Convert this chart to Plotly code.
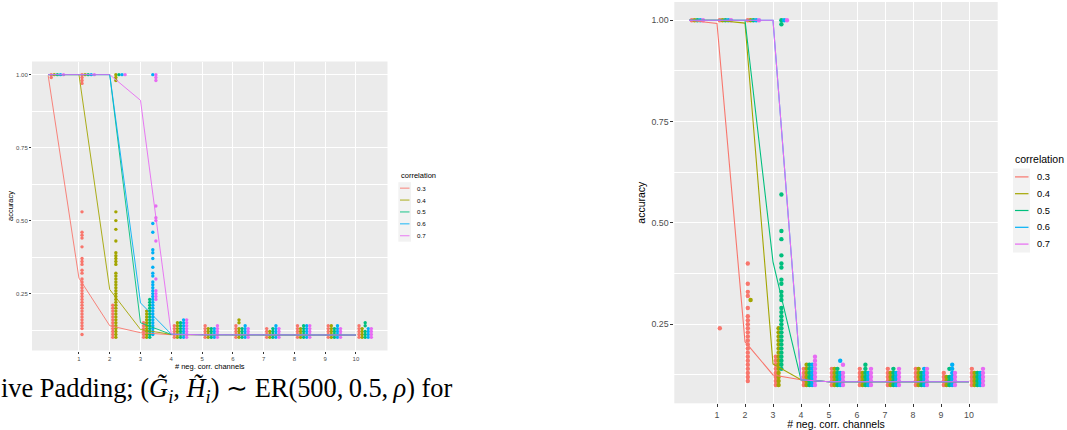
import plotly.graph_objects as go

W, H = 1067, 430

CORR = ["0.3", "0.4", "0.5", "0.6", "0.7"]
COLORS = ["#F8766D", "#A3A500", "#00BF7D", "#00B0F6", "#E76BF3"]
XCAT = [0, 1, 2, 3, 4, 5, 6, 7, 8, 9, 10]
XTICKS = [1, 2, 3, 4, 5, 6, 7, 8, 9, 10]

# ---------------- left panel: observed accuracies per x (index = # neg. corr. channels)
L03 = [
    [1.0, 0.99],
    [1.0, 0.99, 0.98, 0.97, 0.53, 0.46, 0.45, 0.44, 0.41, 0.37, 0.36, 0.35, 0.33, 0.32,
     0.30, 0.29, 0.28, 0.27, 0.26, 0.25, 0.24, 0.23, 0.22, 0.21, 0.20, 0.19, 0.18, 0.17,
     0.16, 0.15, 0.14, 0.13, 0.11],
    [0.21, 0.20, 0.19, 0.18, 0.17, 0.16, 0.15, 0.14, 0.13, 0.12, 0.11, 0.10],
    [0.15, 0.14, 0.13, 0.12, 0.11, 0.10],
    [0.14, 0.13, 0.12, 0.11, 0.10],
    [0.14, 0.13, 0.12, 0.11, 0.10],
    [0.14, 0.13, 0.12, 0.11, 0.10],
    [0.13, 0.12, 0.11, 0.10],
    [0.14, 0.13, 0.12, 0.11, 0.10],
    [0.14, 0.13, 0.12, 0.11, 0.10],
    [0.14, 0.13, 0.12, 0.11, 0.10],
]
L04 = [
    [1.0],
    [1.0],
    [1.0, 0.99, 0.98, 0.53, 0.50, 0.47, 0.43, 0.39, 0.38, 0.37, 0.36, 0.35, 0.32, 0.31,
     0.30, 0.29, 0.28, 0.27, 0.26, 0.25, 0.24, 0.23, 0.22, 0.21, 0.20, 0.19, 0.18, 0.17,
     0.16, 0.15, 0.14, 0.13, 0.12, 0.11, 0.10],
    [0.19, 0.18, 0.17, 0.16, 0.15, 0.14, 0.13, 0.12, 0.11, 0.10],
    [0.15, 0.14, 0.13, 0.12, 0.11, 0.10],
    [0.13, 0.12, 0.11, 0.10],
    [0.16, 0.15, 0.13, 0.12, 0.11, 0.10],
    [0.12, 0.11, 0.10],
    [0.13, 0.12, 0.11, 0.10],
    [0.14, 0.13, 0.12, 0.11, 0.10],
    [0.13, 0.12, 0.11, 0.10],
]
L05 = [
    [1.0],
    [1.0],
    [1.0],
    [0.23, 0.22, 0.21, 0.20, 0.19, 0.18, 0.17, 0.16, 0.15, 0.14, 0.13, 0.12, 0.11, 0.10],
    [0.15, 0.14, 0.13, 0.12, 0.11, 0.10],
    [0.13, 0.12, 0.11, 0.10],
    [0.13, 0.12, 0.11, 0.10],
    [0.13, 0.12, 0.11, 0.10],
    [0.14, 0.13, 0.12, 0.11, 0.10],
    [0.13, 0.12, 0.11, 0.10],
    [0.15, 0.14, 0.12, 0.11, 0.10],
]
L06 = [
    [1.0],
    [1.0],
    [1.0],
    [1.0, 0.49, 0.46, 0.40, 0.39, 0.37, 0.34, 0.32, 0.31, 0.29, 0.28, 0.27, 0.26, 0.25,
     0.24, 0.23, 0.22, 0.21, 0.20, 0.19, 0.18, 0.17, 0.16, 0.15, 0.14, 0.13, 0.12, 0.11],
    [0.16, 0.15, 0.14, 0.13, 0.12, 0.11, 0.10],
    [0.13, 0.12, 0.11, 0.10],
    [0.14, 0.13, 0.12, 0.11, 0.10],
    [0.14, 0.13, 0.12, 0.11, 0.10],
    [0.14, 0.13, 0.12, 0.11, 0.10],
    [0.14, 0.13, 0.12, 0.11, 0.10],
    [0.13, 0.12, 0.11, 0.10],
]
L07 = [
    [1.0],
    [1.0],
    [1.0],
    [1.0, 0.99, 0.98, 0.55, 0.51, 0.50, 0.43, 0.30, 0.26, 0.25, 0.24, 0.23],
    [0.16, 0.15, 0.14, 0.13, 0.12, 0.11, 0.10],
    [0.14, 0.13, 0.12, 0.11, 0.10],
    [0.13, 0.12, 0.11, 0.10],
    [0.13, 0.12, 0.11, 0.10],
    [0.14, 0.13, 0.12, 0.11, 0.10],
    [0.13, 0.12, 0.11, 0.10],
    [0.13, 0.12, 0.11, 0.10],
]
# left panel mean lines
L03_MEAN = [0.997, 0.303, 0.140, 0.116, 0.109, 0.108, 0.108, 0.108, 0.108, 0.108, 0.107]
L04_MEAN = [1.0, 1.0, 0.264, 0.127, 0.110, 0.109, 0.109, 0.108, 0.108, 0.108, 0.108]
L05_MEAN = [1.0, 1.0, 1.0, 0.150, 0.110, 0.109, 0.109, 0.109, 0.109, 0.108, 0.108]
L06_MEAN = [1.0, 1.0, 1.0, 0.218, 0.111, 0.109, 0.109, 0.109, 0.109, 0.109, 0.108]
L07_MEAN = [1.0, 1.0, 1.0, 0.912, 0.111, 0.109, 0.109, 0.109, 0.109, 0.109, 0.108]

# ---------------- right panel
R03 = [
    [1.0],
    [1.0, 0.24],
    [1.0, 0.40, 0.35, 0.33, 0.32, 0.29, 0.27, 0.26, 0.25, 0.24, 0.23, 0.22, 0.21, 0.20,
     0.19, 0.18, 0.17, 0.16, 0.15, 0.14, 0.13, 0.12, 0.11],
    [0.17, 0.16, 0.15, 0.14, 0.13, 0.12, 0.11, 0.10],
    [0.14, 0.13, 0.12, 0.11, 0.10],
    [0.14, 0.13, 0.12, 0.11, 0.10],
    [0.14, 0.13, 0.12, 0.11, 0.10],
    [0.14, 0.13, 0.12, 0.11, 0.10],
    [0.14, 0.13, 0.12, 0.11, 0.10],
    [0.13, 0.12, 0.11, 0.10],
    [0.14, 0.13, 0.12, 0.11, 0.10],
]
R04 = [
    [1.0],
    [1.0],
    [1.0, 0.31],
    [0.24, 0.23, 0.22, 0.21, 0.20, 0.19, 0.18, 0.17, 0.16, 0.15, 0.14, 0.13, 0.12, 0.11, 0.10],
    [0.15, 0.14, 0.13, 0.12, 0.11, 0.10],
    [0.14, 0.13, 0.12, 0.11, 0.10],
    [0.13, 0.12, 0.11, 0.10],
    [0.13, 0.12, 0.11, 0.10],
    [0.14, 0.13, 0.12, 0.11, 0.10],
    [0.12, 0.11, 0.10],
    [0.13, 0.12, 0.11, 0.10],
]
R05 = [
    [1.0],
    [1.0],
    [1.0],
    [1.0, 0.99, 0.57, 0.48, 0.46, 0.42, 0.40, 0.39, 0.36, 0.35, 0.33, 0.32, 0.31, 0.29,
     0.28, 0.27, 0.26, 0.25, 0.24, 0.23, 0.22, 0.21, 0.20, 0.19, 0.18, 0.17, 0.16, 0.15, 0.14],
    [0.15, 0.14, 0.13, 0.12, 0.11, 0.10],
    [0.14, 0.13, 0.12, 0.11, 0.10],
    [0.15, 0.14, 0.13, 0.12, 0.11, 0.10],
    [0.14, 0.13, 0.12, 0.11, 0.10],
    [0.13, 0.12, 0.11, 0.10],
    [0.14, 0.12, 0.11, 0.10],
    [0.13, 0.12, 0.11, 0.10],
]
R06 = [
    [1.0],
    [1.0],
    [1.0],
    [1.0],
    [0.15, 0.14, 0.13, 0.12, 0.11, 0.10],
    [0.16, 0.13, 0.12, 0.11, 0.10],
    [0.13, 0.12, 0.11, 0.10],
    [0.13, 0.12, 0.11, 0.10],
    [0.14, 0.13, 0.12, 0.11, 0.10],
    [0.15, 0.14, 0.13, 0.12, 0.11, 0.10],
    [0.13, 0.12, 0.11, 0.10],
]
R07 = [
    [1.0],
    [1.0],
    [1.0],
    [1.0],
    [0.17, 0.16, 0.15, 0.14, 0.13, 0.12, 0.11, 0.10],
    [0.15, 0.13, 0.12, 0.11, 0.10],
    [0.14, 0.13, 0.12, 0.11, 0.10],
    [0.14, 0.13, 0.12, 0.11, 0.10],
    [0.14, 0.13, 0.12, 0.11, 0.10],
    [0.13, 0.12, 0.11, 0.10],
    [0.14, 0.13, 0.12, 0.11, 0.10],
]
R03_MEAN = [1.0, 0.992, 0.207, 0.125, 0.113, 0.108, 0.108, 0.108, 0.108, 0.108, 0.108]
R04_MEAN = [1.0, 1.0, 0.993, 0.152, 0.113, 0.108, 0.108, 0.108, 0.108, 0.108, 0.108]
R05_MEAN = [1.0, 1.0, 1.0, 0.404, 0.113, 0.108, 0.108, 0.108, 0.108, 0.108, 0.108]
R06_MEAN = [1.0, 1.0, 1.0, 1.0, 0.113, 0.108, 0.108, 0.108, 0.108, 0.108, 0.108]
R07_MEAN = [1.0, 1.0, 1.0, 1.0, 0.113, 0.108, 0.108, 0.108, 0.108, 0.108, 0.108]

CAPTION = ("ive Padding; (<i>G\u0303</i><sub><i>i</i></sub>, <i>H\u0303</i><sub><i>i</i></sub>) "
           "\u223c ER(500,\u20090.5,\u2009<i>\u03c1</i>) for")

LEFT_POINTS = [L03, L04, L05, L06, L07]
LEFT_MEANS = [L03_MEAN, L04_MEAN, L05_MEAN, L06_MEAN, L07_MEAN]
RIGHT_POINTS = [R03, R04, R05, R06, R07]
RIGHT_MEANS = [R03_MEAN, R04_MEAN, R05_MEAN, R06_MEAN, R07_MEAN]

FONT = "Liberation Sans"


def px(x):
    return x / W


def py(y):
    return (H - y) / H


fig = go.Figure()


def add_panel(points, means, xa, ya, msize, lw):
    for k, groups in enumerate(points):
        xs, ys = [], []
        for n, vals in zip(XCAT, groups):
            for v in vals:
                xs.append(n + 0.1 * (k + 1))
                ys.append(v)
        fig.add_trace(go.Scatter(x=xs, y=ys, mode="markers", xaxis=xa, yaxis=ya,
                                 marker=dict(size=msize, color=COLORS[k], line=dict(width=0)),
                                 showlegend=False, hoverinfo="skip"))
    for k, m in enumerate(means):
        fig.add_trace(go.Scatter(x=XCAT, y=m, mode="lines", xaxis=xa, yaxis=ya,
                                 line=dict(color=COLORS[k], width=lw),
                                 name=CORR[k], showlegend=False))


add_panel(LEFT_POINTS, LEFT_MEANS, "x", "y", 3.4, 0.9)
add_panel(RIGHT_POINTS, RIGHT_MEANS, "x2", "y2", 4.4, 1.1)

XR = [-0.525, 11.025]
YR = [0.055, 1.045]


def xaxis(dom, fs, tfs, tlen, gw, standoff):
    return dict(domain=dom, range=XR, tickvals=XTICKS, ticks="outside", ticklen=tlen,
                tickwidth=0.8, tickcolor="#333333", showgrid=True, gridcolor="white",
                gridwidth=gw, zeroline=False, showline=False, automargin=False,
                tickfont=dict(family=FONT, size=fs, color="#4D4D4D"),
                title=dict(text="# neg. corr. channels", standoff=standoff,
                           font=dict(family=FONT, size=tfs, color="black")))


def yaxis(dom, fs, tfs, tlen, gw, standoff, anchor):
    return dict(domain=dom, range=YR, tick0=0, dtick=0.25, tickformat=".2f",
                ticks="outside", ticklen=tlen, tickwidth=0.8, tickcolor="#333333",
                showgrid=True, gridcolor="white", gridwidth=gw, zeroline=False,
                showline=False, automargin=False, anchor=anchor,
                minor=dict(dtick=0.125, tick0=0, showgrid=True, gridcolor="white",
                           gridwidth=gw * 0.5, ticks=""),
                tickfont=dict(family=FONT, size=fs, color="#4D4D4D"),
                title=dict(text="accuracy", standoff=standoff,
                           font=dict(family=FONT, size=tfs, color="black")))


fig.update_layout(
    width=W, height=H, margin=dict(l=0, r=0, t=0, b=0),
    paper_bgcolor="white", plot_bgcolor="#EBEBEB", showlegend=False,
    xaxis=xaxis([px(32), px(387.5)], 6, 7.5, 2, 0.9, 1),
    yaxis=yaxis([py(350.5), py(61.5)], 6, 7.5, 2, 0.9, 1, "x"),
    xaxis2=dict(**xaxis([px(674.3), px(997.7)], 8.8, 10.5, 3, 1.1, 1), anchor="y2"),
    yaxis2=yaxis([py(403.3), py(2)], 8.8, 10.5, 3, 1.1, 3, "x2"),
)

shapes = []
annos = []


def legend(x_title, y_title, tsize, key_x0, key_x1, key_y0, key_h, line_x0, line_x1,
           lab_x, lsize, lw):
    annos.append(dict(text="correlation", x=px(x_title), y=py(y_title), xref="paper",
                      yref="paper", xanchor="left", yanchor="middle", showarrow=False,
                      font=dict(family=FONT, size=tsize, color="black")))
    shapes.append(dict(type="rect", xref="paper", yref="paper", x0=px(key_x0), x1=px(key_x1),
                       y0=py(key_y0 + key_h * len(CORR)), y1=py(key_y0),
                       fillcolor="#F2F2F2", line=dict(width=0)))
    for k, lab in enumerate(CORR):
        yc = key_y0 + key_h * (k + 0.5)
        shapes.append(dict(type="line", xref="paper", yref="paper", x0=px(line_x0),
                           x1=px(line_x1), y0=py(yc), y1=py(yc),
                           line=dict(color=COLORS[k], width=lw)))
        annos.append(dict(text=lab, x=px(lab_x), y=py(yc), xref="paper", yref="paper",
                          xanchor="left", yanchor="middle", showarrow=False,
                          font=dict(family=FONT, size=lsize, color="black")))


legend(398.5, 175.5, 7.5, 398.3, 411, 182.2, 11.9, 400, 409.5, 414.5, 6.2, 0.9)
legend(1012.5, 158.5, 10.5, 1013, 1030, 168.5, 16.8, 1015, 1028.5, 1035, 9.3, 1.2)

annos.append(dict(text=CAPTION, x=0, y=py(390), xref="paper", yref="paper",
                  xanchor="left", yanchor="middle", showarrow=False, xshift=-1,
                  font=dict(family="Liberation Serif", size=26.4, color="black")))

fig.update_layout(shapes=shapes, annotations=annos)
fig.write_html("out.html", config={"displayModeBar": False},
               post_script="document.body.style.margin='0';document.body.style.padding='0';")
